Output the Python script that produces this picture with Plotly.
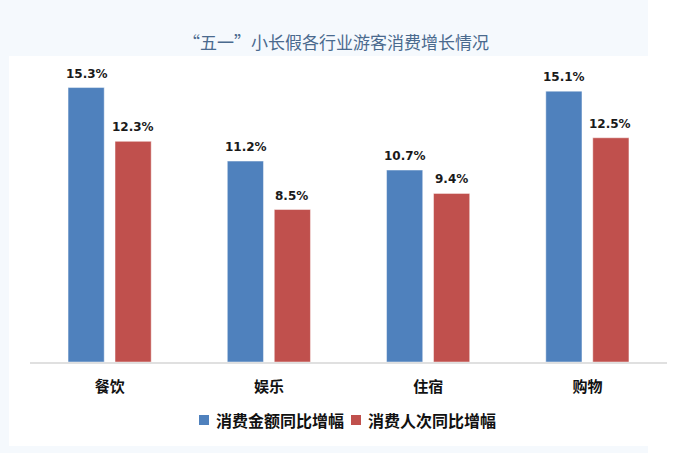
import plotly.graph_objects as go

categories = ["餐饮", "娱乐", "住宿", "购物"]
series_names = ["消费金额同比增幅", "消费人次同比增幅"]
amount_growth = [15.3, 11.2, 10.7, 15.1]
visitor_growth = [12.3, 8.5, 9.4, 12.5]
title_text = "“五一”小长假各行业游客消费增长情况"

W, H = 693, 453
blue = "#4f81bd"
red = "#c0504d"
colors = [blue, red]

fig = go.Figure()
for name, vals, col in [(series_names[0], amount_growth, blue),
                        (series_names[1], visitor_growth, red)]:
    fig.add_trace(go.Bar(
        x=categories, y=vals, name=name,
        marker=dict(color=col, line=dict(color="rgba(255,255,255,0.45)", width=1)),
        hoverinfo="skip", showlegend=False,
    ))

annotations = []
for vals, xs in [(amount_growth, -23), (visitor_growth, 23)]:
    for c, v in zip(categories, vals):
        annotations.append(dict(
            x=c, y=v, xref="x", yref="y", text=f"{v:.1f}%", showarrow=False,
            xshift=xs, yshift=14, yanchor="middle",
            font=dict(family="DejaVu Sans", size=12, color="#1a1a1a", weight="bold"),
        ))
annotations.append(dict(
    x=336 / W, y=1 - 41 / H, xref="paper", yref="paper", text=title_text,
    showarrow=False, xanchor="center", yanchor="middle",
    font=dict(family="Noto Sans CJK SC", size=17, color="#4a6a8e"),
))

light = "#f5f9fd"
shapes = [
    dict(type="rect", xref="paper", yref="paper", x0=0, x1=648 / W, y0=0, y1=1,
         fillcolor=light, line=dict(width=0), layer="below"),
    dict(type="rect", xref="paper", yref="paper", x0=9 / W, x1=1, y0=1 - 446 / H, y1=1 - 56 / H,
         fillcolor="white", line=dict(width=0), layer="below"),
]

# custom legend (square swatches + labels)
legend_x = [199, 351]
legend_y = 420
for lx, name, col in zip(legend_x, series_names, colors):
    shapes.append(dict(type="rect", xref="paper", yref="paper",
                       x0=lx / W, x1=(lx + 10) / W,
                       y0=1 - (legend_y + 5) / H, y1=1 - (legend_y - 5) / H,
                       fillcolor=col, line=dict(width=0)))
    annotations.append(dict(
        x=(lx + 15) / W, y=1 - legend_y / H, xref="paper", yref="paper", text=name,
        showarrow=False, xanchor="left", yanchor="middle",
        font=dict(family="Noto Sans CJK SC", size=16, color="#111111", weight="bold"),
    ))

fig.update_layout(
    width=W, height=H,
    margin=dict(l=0, r=0, t=0, b=0),
    paper_bgcolor="white",
    plot_bgcolor="rgba(0,0,0,0)",
    barmode="group",
    bargap=0.41,
    bargroupgap=0.23,
    showlegend=False,
    xaxis=dict(domain=[30 / W, 667 / W], showline=True, linecolor="#e0e0e0", linewidth=2,
               showgrid=False, ticks="", ticklabelstandoff=10,
               tickfont=dict(family="Noto Sans CJK SC", size=15, color="#111111", weight="bold"),
               fixedrange=True),
    yaxis=dict(domain=[1 - 362 / H, 1 - 75 / H], range=[0, 16], visible=False,
               showgrid=False, zeroline=False, fixedrange=True),
    annotations=annotations,
    shapes=shapes,
)

fig.write_html("out.html")
